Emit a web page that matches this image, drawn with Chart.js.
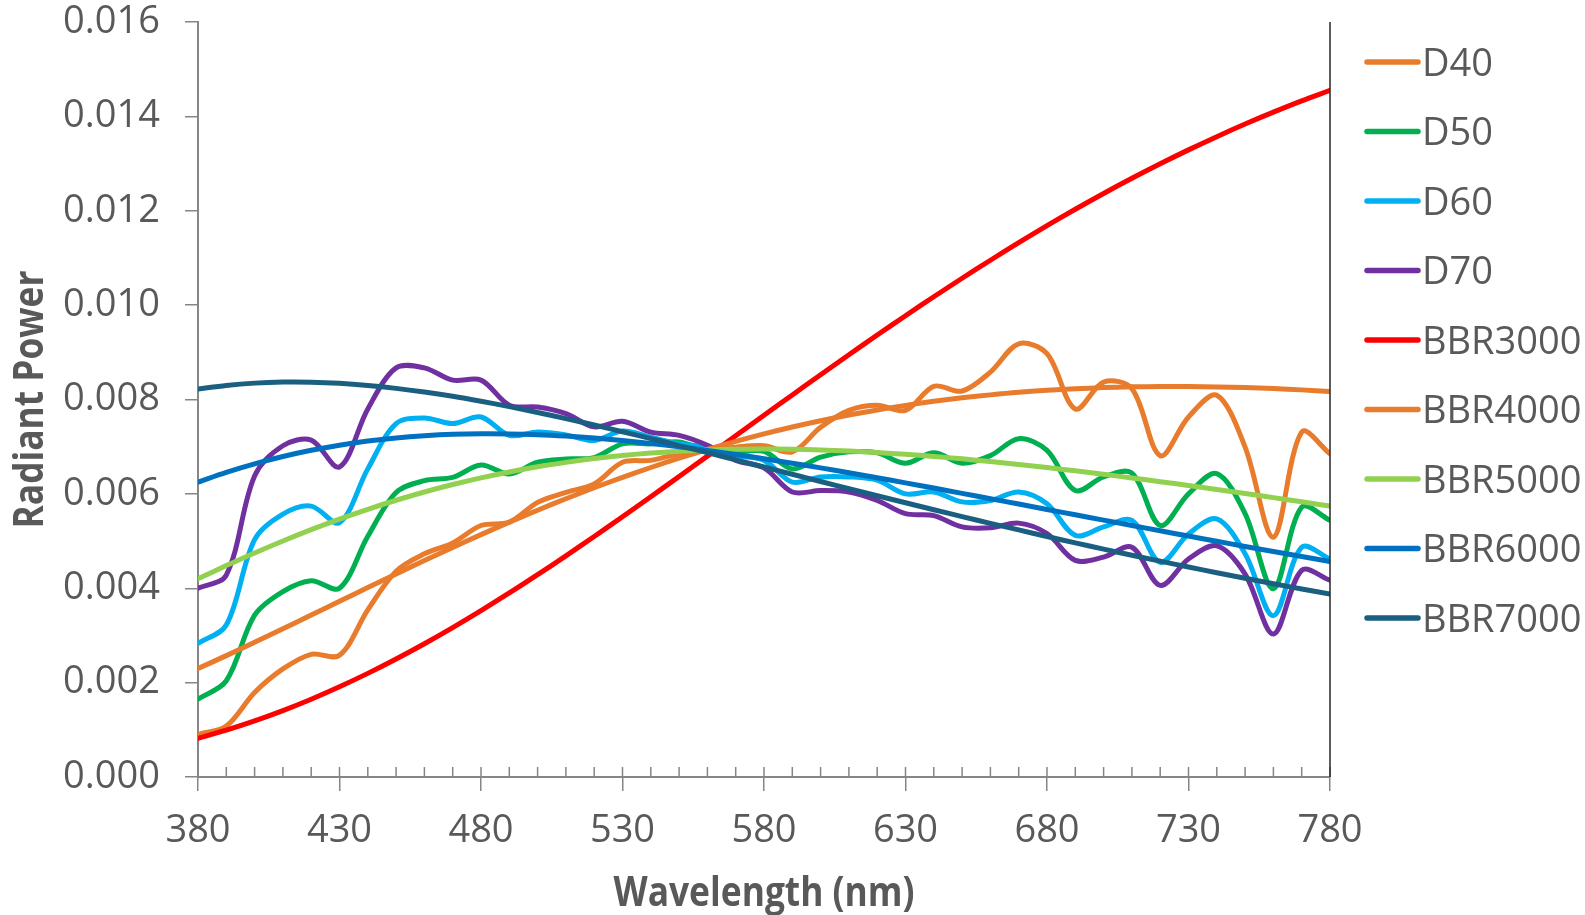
<!DOCTYPE html>
<html lang="en">
<head>
<meta charset="UTF-8">
<title>Radiant Power vs Wavelength</title>
<script src="https://cdn.jsdelivr.net/npm/chart.js"></script>
<style>
  body { margin: 0; background: #fff; }
  #wrap { width: 1585px; height: 915px; }
</style>
</head>
<body>
<div id="wrap"><canvas id="spectra" width="1585" height="915"></canvas></div>
<script>
// wavelengths (nm), one point every 10 nm
const wavelengths = [380, 390, 400, 410, 420, 430, 440, 450, 460, 470, 480, 490, 500, 510, 520, 530, 540, 550, 560, 570,
  580, 590, 600, 610, 620, 630, 640, 650, 660, 670, 680, 690, 700, 710, 720, 730, 740, 750, 760, 770, 780];

const xTickValues = [380, 430, 480, 530, 580, 630, 680, 730, 780];
const yTickValues = [0, 0.002, 0.004, 0.006, 0.008, 0.010, 0.012, 0.014, 0.016];

const seriesNames = ['D40', 'D50', 'D60', 'D70', 'BBR3000', 'BBR4000', 'BBR5000', 'BBR6000', 'BBR7000'];

// daylight series
const d40 = [0.00090, 0.00108, 0.00179, 0.00229, 0.00260, 0.00258, 0.00354, 0.00436, 0.00473, 0.00496, 0.00533,
  0.00540, 0.00582, 0.00603, 0.00621, 0.00667, 0.00671, 0.00685, 0.00692, 0.00699, 0.00702,
  0.00689, 0.00741, 0.00777, 0.00788, 0.00777, 0.00828, 0.00818, 0.00858, 0.00918, 0.00897,
  0.00780, 0.00837, 0.00823, 0.00681, 0.00763, 0.00809, 0.00699, 0.00508, 0.00731, 0.00685];
const d50 = [0.00165, 0.00204, 0.00343, 0.00393, 0.00416, 0.00400, 0.00510, 0.00603, 0.00628, 0.00635, 0.00661,
  0.00642, 0.00667, 0.00674, 0.00677, 0.00706, 0.00706, 0.00710, 0.00692, 0.00689, 0.00690,
  0.00653, 0.00678, 0.00689, 0.00687, 0.00665, 0.00687, 0.00665, 0.00681, 0.00717, 0.00692,
  0.00607, 0.00636, 0.00644, 0.00533, 0.00600, 0.00643, 0.00558, 0.00399, 0.00572, 0.00544];
const d60 = [0.00283, 0.00322, 0.00503, 0.00557, 0.00574, 0.00539, 0.00653, 0.00749, 0.00761, 0.00749, 0.00763,
  0.00724, 0.00731, 0.00725, 0.00713, 0.00733, 0.00720, 0.00706, 0.00699, 0.00681, 0.00671,
  0.00625, 0.00636, 0.00636, 0.00629, 0.00600, 0.00604, 0.00583, 0.00586, 0.00604, 0.00579,
  0.00512, 0.00530, 0.00544, 0.00455, 0.00515, 0.00547, 0.00473, 0.00342, 0.00487, 0.00462];
const d70 = [0.00400, 0.00428, 0.00638, 0.00702, 0.00714, 0.00657, 0.00780, 0.00867, 0.00867, 0.00841, 0.00841,
  0.00788, 0.00784, 0.00770, 0.00742, 0.00754, 0.00731, 0.00724, 0.00703, 0.00671, 0.00655,
  0.00604, 0.00607, 0.00604, 0.00586, 0.00558, 0.00554, 0.00530, 0.00528, 0.00538, 0.00516,
  0.00459, 0.00466, 0.00487, 0.00406, 0.00462, 0.00490, 0.00430, 0.00303, 0.00438, 0.00417];

// black body series
const bbr3000 = [0.000818, 0.000993, 0.001189, 0.001408, 0.001649, 0.001912, 0.002196, 0.002501, 0.002825, 0.003167, 0.003526,
  0.003900, 0.004288, 0.004687, 0.005097, 0.005514, 0.005939, 0.006368, 0.006800, 0.007233, 0.007666,
  0.008097, 0.008525, 0.008948, 0.009366, 0.009776, 0.010177, 0.010570, 0.010951, 0.011323, 0.011683,
  0.012031, 0.012366, 0.012687, 0.012995, 0.013290, 0.013570, 0.013837, 0.014089, 0.014328, 0.014550];
const bbr4000 = [0.002298, 0.002572, 0.002854, 0.003142, 0.003432, 0.003724, 0.004015, 0.004303, 0.004587, 0.004865, 0.005137,
  0.005400, 0.005654, 0.005897, 0.006129, 0.006350, 0.006559, 0.006756, 0.006940, 0.007111, 0.007270,
  0.007416, 0.007549, 0.007670, 0.007779, 0.007876, 0.007961, 0.008035, 0.008098, 0.008152, 0.008194,
  0.008227, 0.008252, 0.008268, 0.008275, 0.008275, 0.008267, 0.008253, 0.008231, 0.008204, 0.008170];
const bbr5000 = [0.004201, 0.004480, 0.004748, 0.005002, 0.005242, 0.005466, 0.005674, 0.005865, 0.006040, 0.006198, 0.006340,
  0.006465, 0.006575, 0.006668, 0.006748, 0.006813, 0.006865, 0.006903, 0.006930, 0.006946, 0.006950,
  0.006945, 0.006931, 0.006907, 0.006876, 0.006838, 0.006793, 0.006742, 0.006685, 0.006624, 0.006558,
  0.006488, 0.006414, 0.006338, 0.006258, 0.006177, 0.006093, 0.006007, 0.005920, 0.005832, 0.005742];
const bbr6000 = [0.006251, 0.006456, 0.006636, 0.006791, 0.006923, 0.007032, 0.007119, 0.007185, 0.007232, 0.007263, 0.007274,
  0.007271, 0.007255, 0.007224, 0.007182, 0.007130, 0.007068, 0.006998, 0.006920, 0.006836, 0.006745,
  0.006650, 0.006551, 0.006448, 0.006342, 0.006233, 0.006123, 0.006011, 0.005897, 0.005784, 0.005670,
  0.005557, 0.005443, 0.005330, 0.005217, 0.005106, 0.004995, 0.004886, 0.004778, 0.004672, 0.004567];
const bbr7000 = [0.008220, 0.008298, 0.008347, 0.008369, 0.008367, 0.008343, 0.008298, 0.008236, 0.008158, 0.008067, 0.007962,
  0.007849, 0.007726, 0.007595, 0.007459, 0.007317, 0.007172, 0.007024, 0.006873, 0.006721, 0.006569,
  0.006415, 0.006263, 0.006110, 0.005961, 0.005811, 0.005663, 0.005519, 0.005376, 0.005236, 0.005097,
  0.004962, 0.004829, 0.004700, 0.004574, 0.004449, 0.004329, 0.004211, 0.004097, 0.003984, 0.003876];

const seriesData = [d40, d50, d60, d70, bbr3000, bbr4000, bbr5000, bbr6000, bbr7000];
const lineColors = ['#E97B2C', '#00B050', '#00B0F0', '#7030A0', '#FF0000', '#E97B2C', '#92D050', '#0070C0', '#1A5E82'];

const textGray = '#595959';
const axisGray = '#868686';
const tickFont = { family: 'Open Sans', size: 38 };

// draw a bold title squeezed to a target width (the original uses a condensed face)
function drawTitle(ctx, text, cx, cy, targetWidth, rotate) {
  ctx.save();
  ctx.font = 'bold 41px "Open Sans"';
  ctx.fillStyle = textGray;
  ctx.textAlign = 'center';
  ctx.textBaseline = 'middle';
  const w = ctx.measureText(text).width;
  ctx.translate(cx, cy);
  if (rotate) ctx.rotate(-Math.PI / 2);
  ctx.scale(targetWidth / w, 1);
  ctx.fillText(text, 0, 0);
  ctx.restore();
}

// minor ticks, right frame edge, axis titles and the legend
const extras = {
  id: 'extras',
  beforeDatasetsDraw(chart) {
    const { ctx, chartArea, scales } = chart;
    ctx.save();
    ctx.strokeStyle = axisGray;
    ctx.lineWidth = 1.5;
    wavelengths.forEach(w => {
      const x = scales.x.getPixelForValue(w);
      ctx.beginPath();
      ctx.moveTo(x, chartArea.bottom);
      ctx.lineTo(x, chartArea.bottom - 10);
      ctx.stroke();
    });
    ctx.restore();
  },
  afterDraw(chart) {
    const { ctx, chartArea } = chart;
    ctx.save();
    ctx.strokeStyle = '#262626';
    ctx.lineWidth = 1.5;
    ctx.beginPath();
    ctx.moveTo(chartArea.right, chartArea.top);
    ctx.lineTo(chartArea.right, chartArea.bottom);
    ctx.stroke();

    const lx = chartArea.right + 37;
    const ly0 = chartArea.top + 40;
    const step = 69.5;
    ctx.font = '38px "Open Sans"';
    ctx.textBaseline = 'alphabetic';
    chart.data.datasets.forEach((ds, i) => {
      const y = ly0 + i * step;
      ctx.strokeStyle = ds.borderColor;
      ctx.lineWidth = 5.5;
      ctx.lineCap = 'round';
      ctx.beginPath();
      ctx.moveTo(lx, y);
      ctx.lineTo(lx + 51, y);
      ctx.stroke();
      ctx.fillStyle = textGray;
      ctx.fillText(ds.label, lx + 55, y + 13.5);
    });
    ctx.restore();

    const midX = (chartArea.left + chartArea.right) / 2;
    const midY = (chartArea.top + chartArea.bottom) / 2;
    drawTitle(ctx, 'Wavelength (nm)', midX, 894, 301, false);
    drawTitle(ctx, 'Radiant Power', 31, midY, 258, true);
  }
};

const datasets = seriesNames.map((name, i) => ({
  label: name,
  data: seriesData[i],
  borderColor: lineColors[i],
  backgroundColor: lineColors[i],
  borderWidth: 5,
  borderCapStyle: 'round',
  borderJoinStyle: 'round',
  pointRadius: 0,
  tension: 0.33,
  fill: false,
  order: seriesNames.length - i   // later series drawn on top, like the original
}));

new Chart(document.getElementById('spectra'), {
  type: 'line',
  data: { labels: wavelengths, datasets: datasets },
  options: {
    responsive: false,
    animation: false,
    devicePixelRatio: 1,
    layout: { padding: { top: 22, right: 255, bottom: 0, left: 0 } },
    plugins: { legend: { display: false }, tooltip: { enabled: false } },
    scales: {
      x: {
        type: 'linear',
        min: 380,
        max: 780,
        afterBuildTicks: s => { s.ticks = xTickValues.map(v => ({ value: v })); },
        afterFit: s => { s.height = 138; s.paddingLeft = 0; s.paddingRight = 0; },
        grid: { drawOnChartArea: false, tickLength: 14, color: axisGray, lineWidth: 1.5 },
        border: { color: axisGray, width: 2 },
        ticks: { padding: 17, color: textGray, font: tickFont, maxRotation: 0, autoSkip: false }
      },
      y: {
        min: 0,
        max: 0.016,
        afterBuildTicks: s => { s.ticks = yTickValues.map(v => ({ value: v })); },
        afterFit: s => { s.width = 198; s.paddingTop = 0; s.paddingBottom = 0; },
        grid: { drawOnChartArea: false, tickLength: 13, color: axisGray, lineWidth: 1.5 },
        border: { color: axisGray, width: 2 },
        ticks: { padding: 25, color: textGray, font: tickFont, callback: v => v.toFixed(3) }
      }
    }
  },
  plugins: [extras]
});
</script>
</body>
</html>
